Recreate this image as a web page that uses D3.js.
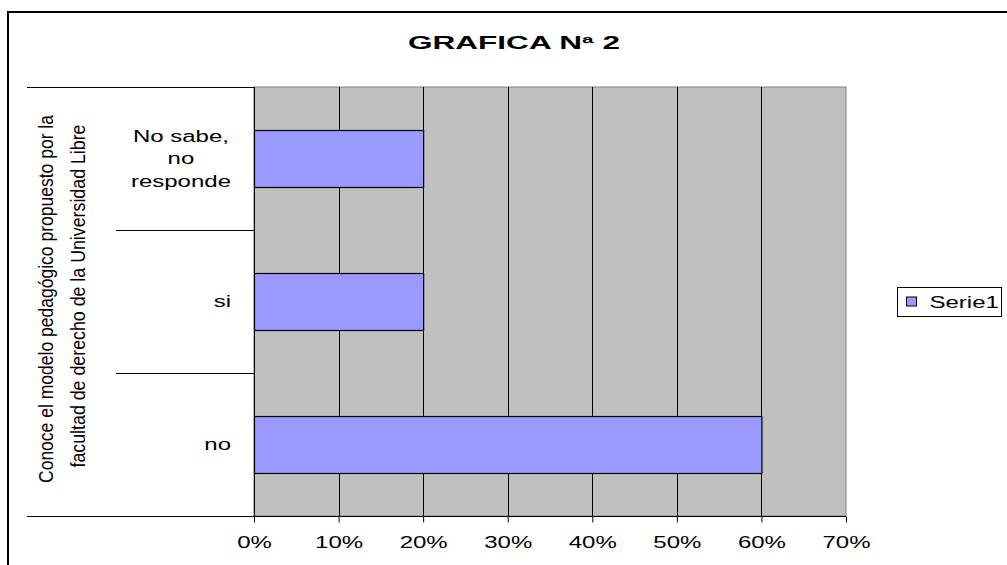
<!DOCTYPE html>
<html>
<head>
<meta charset="utf-8">
<script src="https://cdn.jsdelivr.net/npm/d3@7"></script>
<style>
  body { margin: 0; background: #fff; }
  svg { display: block; font-family: "Liberation Sans", Arial, sans-serif; }
</style>
</head>
<body>
<div id="chart"></div>
<script>
// datos de la grafica
const categories = ["No sabe, no responde", "si", "no"];
const categoryLines = [["No sabe,", "no", "responde"], ["si"], ["no"]];
const serie1 = [0.20, 0.20, 0.60];
const xTicks = [0, 0.1, 0.2, 0.3, 0.4, 0.5, 0.6, 0.7];
const titleText = "GRAFICA Nª 2";
const axisTitle = ["Conoce el modelo pedagógico propuesto por la", "facultad de derecho de la Universidad Libre"];
const legendName = "Serie1";

const W = 1007, H = 565;
const plot = { left: 254, right: 846, top: 87, bottom: 516 };
const STRETCH = 1.5; // el texto original sale ensanchado

// ensancha el texto horizontalmente
function stretch(sel, k) {
    sel.each(function() {
        const w = this.getComputedTextLength();
        d3.select(this)
            .attr("textLength", w * k)
            .attr("lengthAdjust", "spacingAndGlyphs");
    });
}

const svg = d3.select("#chart").append("svg")
    .attr("width", W)
    .attr("height", H);

// marco exterior (cortado a la derecha y abajo)
svg.append("rect")
    .attr("x", 8).attr("y", 12)
    .attr("width", 1100).attr("height", 700)
    .attr("fill", "#fff")
    .attr("stroke", "#000")
    .attr("stroke-width", 2);

const x = d3.scaleLinear().domain([0, 0.7]).range([plot.left, plot.right]);
const y = d3.scaleBand().domain(categories).range([plot.top, plot.bottom]).padding(0);

// fondo del area de trazado
svg.append("rect")
    .attr("x", plot.left).attr("y", plot.top)
    .attr("width", plot.right - plot.left)
    .attr("height", plot.bottom - plot.top)
    .attr("fill", "#c0c0c0")
    .attr("stroke", "#808080");

// lineas de division verticales
svg.append("g")
    .selectAll("line")
    .data(xTicks.slice(1, -1))
    .join("line")
    .attr("x1", d => Math.round(x(d)) + 0.5)
    .attr("x2", d => Math.round(x(d)) + 0.5)
    .attr("y1", plot.top)
    .attr("y2", plot.bottom)
    .attr("stroke", "#000");

// barras
const barH = y.bandwidth() * 0.4;
svg.append("g")
    .selectAll("rect")
    .data(categories)
    .join("rect")
    .attr("x", x(0) + 0.5)
    .attr("y", (d) => Math.round(y(d) + (y.bandwidth() - barH) / 2) + 0.5)
    .attr("width", (d, i) => x(serie1[i]) - x(0))
    .attr("height", Math.round(barH))
    .attr("fill", "#9999ff")
    .attr("stroke", "#000")
    .attr("stroke-width", 1.2);

// eje X
const xAxis = svg.append("g")
    .attr("transform", `translate(0,${plot.bottom + 0.5})`)
    .call(d3.axisBottom(x).tickValues(xTicks).tickFormat(d3.format(".0%")).tickSize(6).tickSizeOuter(0));
xAxis.select(".domain").remove();
xAxis.selectAll("line").attr("stroke", "#000");
xAxis.selectAll("text")
    .attr("font-size", 16)
    .attr("fill", "#000")
    .attr("y", 31)
    .attr("dy", null)
    .style("font-family", "Liberation Sans, Arial, sans-serif")
    .call(stretch, STRETCH);

// linea base del eje X (se extiende bajo las etiquetas)
svg.append("line")
    .attr("x1", 27).attr("x2", plot.right)
    .attr("y1", plot.bottom + 0.5).attr("y2", plot.bottom + 0.5)
    .attr("stroke", "#000");

// eje de categorias
svg.append("line")
    .attr("x1", plot.left + 0.5).attr("x2", plot.left + 0.5)
    .attr("y1", plot.top).attr("y2", plot.bottom + 6)
    .attr("stroke", "#000");
svg.append("line")
    .attr("x1", 27).attr("x2", plot.left)
    .attr("y1", plot.top + 0.5).attr("y2", plot.top + 0.5)
    .attr("stroke", "#000");
svg.append("g")
    .selectAll("line")
    .data(categories.slice(1))
    .join("line")
    .attr("x1", 116).attr("x2", plot.left)
    .attr("y1", d => Math.round(y(d)) + 0.5)
    .attr("y2", d => Math.round(y(d)) + 0.5)
    .attr("stroke", "#000");

// etiquetas de categoria
const labelRight = 231;
const lineH = 22.5;
categories.forEach((c, i) => {
    const lines = categoryLines[i];
    const g = svg.append("g");
    const cy = y(c) + y.bandwidth() / 2;
    const texts = lines.map((t, j) => g.append("text")
        .attr("y", cy + (j - (lines.length - 1) / 2) * lineH)
        .attr("dy", "0.35em")
        .attr("font-size", 16)
        .attr("text-anchor", "middle")
        .text(t));
    texts.forEach(t => t.call(stretch, STRETCH));
    const maxW = d3.max(texts, t => +t.attr("textLength"));
    texts.forEach(t => t.attr("x", labelRight - maxW / 2));
});

// titulo del eje de categorias (rotado y comprimido)
const axisLens = [368, 343];
const axisCenter = [299, 296];
axisTitle.forEach((t, i) => {
    svg.append("text")
        .attr("transform", `translate(${53 + i * 32},${axisCenter[i]}) rotate(-90)`)
        .attr("text-anchor", "middle")
        .attr("font-size", 21)
        .attr("textLength", axisLens[i])
        .attr("lengthAdjust", "spacingAndGlyphs")
        .text(t);
});

// titulo
svg.append("text")
    .attr("x", 514)
    .attr("y", 49)
    .attr("text-anchor", "middle")
    .attr("font-size", 17.5)
    .attr("font-weight", "bold")
    .attr("textLength", 212)
    .attr("lengthAdjust", "spacingAndGlyphs")
    .text(titleText);

// leyenda
const legend = svg.append("g").attr("transform", "translate(897.5,287.5)");
legend.append("rect")
    .attr("width", 104).attr("height", 29)
    .attr("fill", "#fff").attr("stroke", "#000");
legend.append("rect")
    .attr("x", 9).attr("y", 9.5)
    .attr("width", 10).attr("height", 9)
    .attr("fill", "#9999ff").attr("stroke", "#000");
legend.append("text")
    .attr("x", 32).attr("y", 20)
    .attr("font-size", 16)
    .text(legendName)
    .call(stretch, STRETCH);
</script>
</body>
</html>
